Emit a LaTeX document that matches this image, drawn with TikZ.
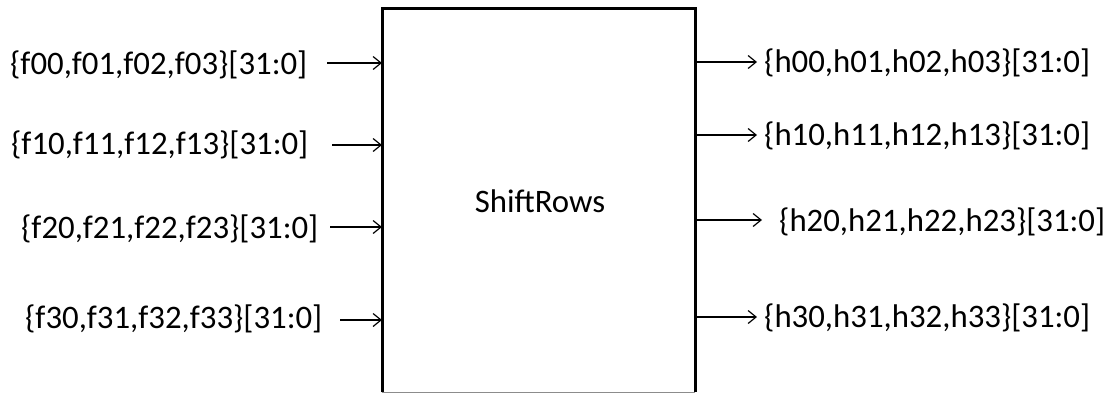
\documentclass[tikz,border=0pt]{standalone}
\usepackage{fontspec}
\setmainfont{Carlito}
\usetikzlibrary{arrows.meta}
\begin{document}
\begin{tikzpicture}[x=1pt,y=-1pt,
  lbl/.style={inner sep=0pt,font=\fontsize{32.8}{39}\selectfont},
  sig/.style={line width=1.2pt,-{Straight Barb[length=8pt,width=13pt,line width=1.2pt]}},
  boxline/.style={line width=3pt}]
\useasboundingbox (0,0) rectangle (1110,392);
% block
\node[minimum width=313pt,minimum height=384pt,inner sep=0pt,anchor=north west] (box) at (382,8) {};
\draw[boxline] (box.south west) -- (box.north west) -- (box.north east) -- (box.south east);
\draw[line width=1pt,black!45] (box.south west) -- (box.south east);
\node[lbl] (title) at (540,201) {ShiftRows};
% inputs
\node[lbl,anchor=west] (f0) at (10,65) {\{f00,f01,f02,f03\}[31:0]};
\node[lbl,anchor=west] (f1) at (11,145) {\{f10,f11,f12,f13\}[31:0]};
\node[lbl,anchor=west] (f2) at (21,229) {\{f20,f21,f22,f23\}[31:0]};
\node[lbl,anchor=west] (f3) at (25,319) {\{f30,f31,f32,f33\}[31:0]};
\coordinate (a0) at (327,63);
\coordinate (a1) at (332,145);
\coordinate (a2) at (330,227);
\coordinate (a3) at (340,320);
\draw[sig] (a0) -- (box.west |- a0);
\draw[sig] (a1) -- (box.west |- a1);
\draw[sig] (a2) -- (box.west |- a2);
\draw[sig] (a3) -- (box.west |- a3);
% outputs
\node[lbl,anchor=west] (h0) at (764,63) {\{h00,h01,h02,h03\}[31:0]};
\node[lbl,anchor=west] (h1) at (764,136) {\{h10,h11,h12,h13\}[31:0]};
\node[lbl,anchor=west] (h2) at (779,222) {\{h20,h21,h22,h23\}[31:0]};
\node[lbl,anchor=west] (h3) at (764,318) {\{h30,h31,h32,h33\}[31:0]};
\coordinate (b0) at (757,62);
\coordinate (b1) at (757,135);
\coordinate (b2) at (762,220);
\coordinate (b3) at (757,317);
\draw[sig] (box.east |- b0) -- (b0);
\draw[sig] (box.east |- b1) -- (b1);
\draw[sig] (box.east |- b2) -- (b2);
\draw[sig] (box.east |- b3) -- (b3);
\end{tikzpicture}
\end{document}
